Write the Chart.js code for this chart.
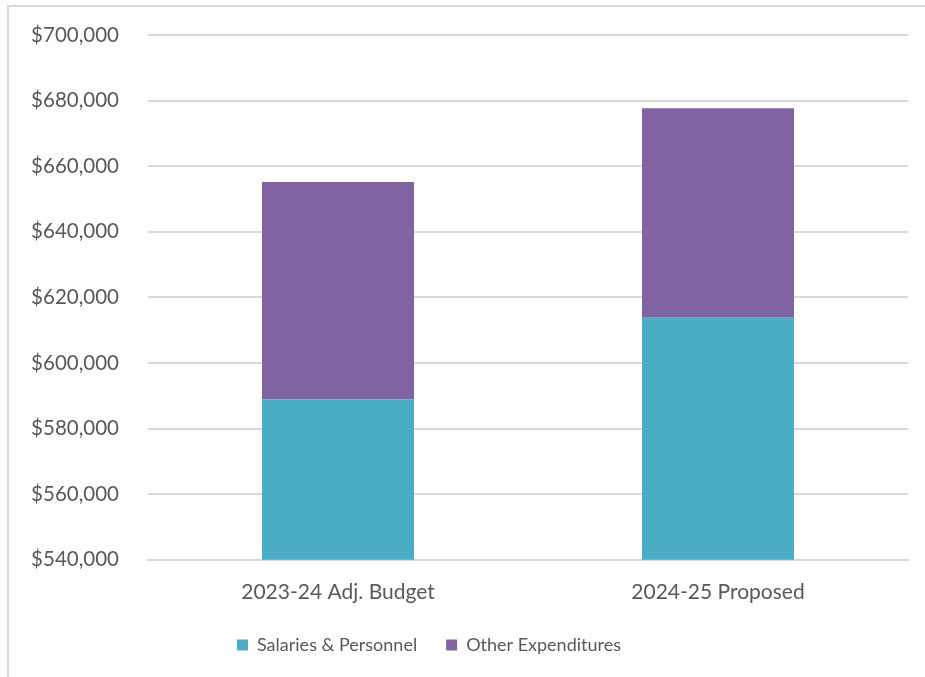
<!DOCTYPE html>
<html>
<head>
<meta charset="utf-8">
<script src="https://cdn.jsdelivr.net/npm/chart.js@4"></script>
<style>
  html, body { margin: 0; padding: 0; background: #fff; }
  #wrap { position: relative; width: 925px; height: 677px; }
  #frame { position: absolute; left: 7px; top: 5px; width: 940px; height: 700px; border-left: 2px solid #d9d9d9; border-top: 2px solid #d9d9d9; box-sizing: border-box; }
  canvas { position: absolute; left: 0; top: 0; }
</style>
</head>
<body>
<div id="wrap">
  <div id="frame"></div>
  <canvas id="c" width="925" height="677"></canvas>
</div>
<script>
const categories = ["2023-24 Adj. Budget", "2024-25 Proposed"];
const seriesNames = ["Salaries & Personnel", "Other Expenditures"];
const salaries = [588900, 613800];
const otherExpenditures = [66300, 63900];
const yTicks = [540000, 560000, 580000, 600000, 620000, 640000, 660000, 680000, 700000];

const FAMILY = "Lato, 'Open Sans', sans-serif";
const TEXT = "#595959";

const legendShift = {
  id: "legendShift",
  afterLayout(chart) {
    if (chart.legend) { chart.legend.left -= 25; chart.legend.right -= 25; }
  }
};

new Chart(document.getElementById("c"), {
  type: "bar",
  data: {
    labels: categories,
    datasets: [
      { label: seriesNames[0], data: salaries, backgroundColor: "#4BACC6", borderWidth: 0 },
      { label: seriesNames[1], data: otherExpenditures, backgroundColor: "#8064A2", borderWidth: 0 }
    ]
  },
  plugins: [legendShift],
  options: {
    responsive: false,
    animation: false,
    datasets: { bar: { categoryPercentage: 1, barPercentage: 0.4 } },
    layout: { padding: { left: 0, right: 17, top: 35, bottom: 13 } },
    plugins: {
      tooltip: { enabled: false },
      legend: {
        position: "bottom",
        labels: { font: { family: FAMILY, size: 18 }, color: TEXT, boxWidth: 11, boxHeight: 11, padding: 29 }
      }
    },
    scales: {
      x: {
        stacked: true,
        afterFit: (axis) => { axis.height -= 18; },
        grid: { display: false, drawTicks: false },
        border: { display: true, color: "#d9d9d9", width: 2 },
        ticks: { font: { family: FAMILY, size: 21 }, color: TEXT, padding: 20 }
      },
      y: {
        stacked: true,
        min: yTicks[0],
        max: yTicks[yTicks.length - 1],
        afterBuildTicks: (axis) => { axis.ticks = yTicks.map(v => ({ value: v })); },
        afterFit: (axis) => { axis.width = 148; axis.paddingTop = 0; axis.paddingBottom = 0; },
        grid: { color: "#d9d9d9", lineWidth: 2, drawTicks: false },
        border: { display: false },
        ticks: {
          font: { family: FAMILY, size: 20.5 }, color: TEXT, padding: 29,
          callback: (v) => "$" + Number(v).toLocaleString("en-US")
        }
      }
    }
  }
});
</script>
</body>
</html>
